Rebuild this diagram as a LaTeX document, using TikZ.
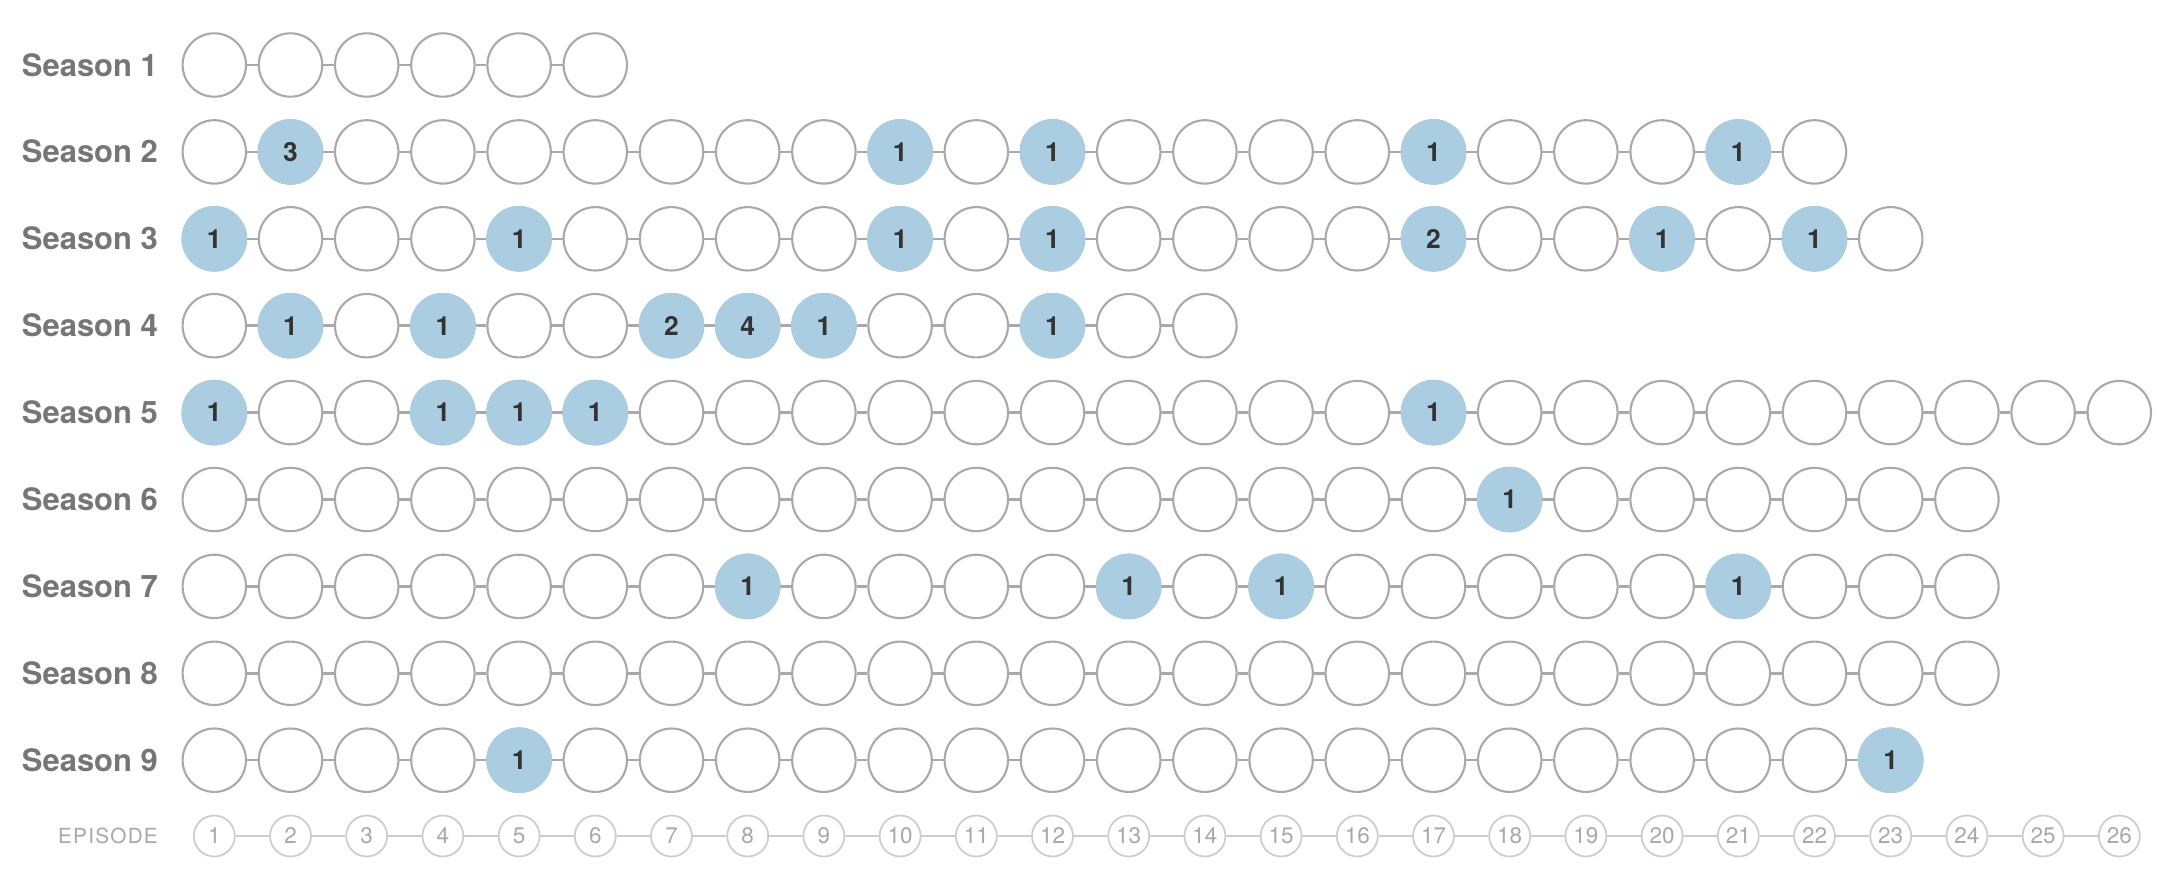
\documentclass[tikz,border=0pt]{standalone}
\usepackage{fontspec}
\setmainfont{TeX Gyre Heros}

\definecolor{ringgray}{HTML}{A9A9A9}
\definecolor{hitblue}{HTML}{ABCDE2}
\definecolor{numdark}{HTML}{333333}
\definecolor{labelgray}{HTML}{767676}
\definecolor{axisgray}{HTML}{CDCDCD}
\definecolor{axistext}{HTML}{A8A8A8}

\begin{document}
\begin{tikzpicture}[
    main/.style = {draw=ringgray, line width=0.6pt, circle, minimum size=6.34mm, inner sep=0pt},
    hit/.style = {main, draw=hitblue, fill=hitblue, text=numdark, font=\bfseries\fontsize{7.5}{8}\selectfont},
    link/.style = {draw=ringgray, line width=0.7pt},
    season/.style = {anchor=east, inner sep=0pt, text=labelgray, text height=6.3pt, text depth=0pt, font=\bfseries\fontsize{8.8}{10}\selectfont},
    ep/.style = {draw=axisgray, line width=0.5pt, circle, minimum size=4.1mm, inner sep=0pt, text=axistext, font=\fontsize{6.4}{7}\selectfont},
    epline/.style = {draw=axisgray, line width=0.6pt}
  ]
    \useasboundingbox (0,0) rectangle (21.8,-8.86);

    % Temporadas
    \foreach \s/\len in {1/6, 2/22, 3/23, 4/14, 5/26, 6/24, 7/24, 8/24, 9/23} {
        \node[season] (t\s) at (1.585,{-0.65-0.869*(\s-1)}) {Season \s};
        \foreach \e in {1,...,\len}
            \node[main] (s\s-\e) at ({2.143+0.762*(\e-1)},{-0.65-0.869*(\s-1)}) {};
        \foreach \e in {2,...,\len} {
            \pgfmathtruncatemacro\p{\e-1}
            \draw[link] (s\s-\p) -- (s\s-\e);
        }
    }

    % Episodios marcados
    \foreach \s/\e/\v in {2/2/3, 2/10/1, 2/12/1, 2/17/1, 2/21/1,
                          3/1/1, 3/5/1, 3/10/1, 3/12/1, 3/17/2, 3/20/1, 3/22/1,
                          4/2/1, 4/4/1, 4/7/2, 4/8/4, 4/9/1, 4/12/1,
                          5/1/1, 5/4/1, 5/5/1, 5/6/1, 5/17/1,
                          6/18/1,
                          7/8/1, 7/13/1, 7/15/1, 7/21/1,
                          9/5/1, 9/23/1}
        \node[hit] (h\s-\e) at (s\s-\e) {\v};

    % Eje de episodios
    \node[season, text=axistext, text height=4.25pt, font=\fontsize{5.9}{7}\selectfont\addfontfeature{LetterSpace=6}] (epi) at (1.585,-8.36) {EPISODE};
    \foreach \e in {1,...,26}
        \node[ep] (x\e) at ({2.143+0.762*(\e-1)},-8.36) {\e};
    \foreach \e in {2,...,26} {
        \pgfmathtruncatemacro\p{\e-1}
        \draw[epline] (x\p) -- (x\e);
    }
\end{tikzpicture}
\end{document}
